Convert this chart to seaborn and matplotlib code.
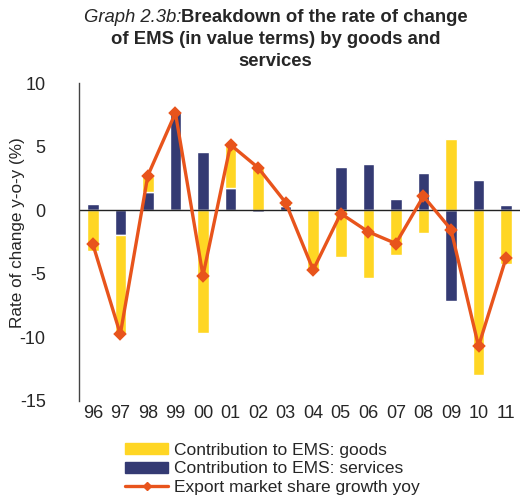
import numpy as np
import pandas as pd
import seaborn as sns
import matplotlib.pyplot as plt
from matplotlib.patches import Patch
from matplotlib.lines import Line2D

# values (percentage points)
years = ['96', '97', '98', '99', '00', '01', '02', '03',
         '04', '05', '06', '07', '08', '09', '10', '11']
goods = [-3.2, -7.85, 1.31, -0.05, -9.7, 3.41, 3.46, 0.25,
         -4.68, -3.7, -5.3, -3.54, -1.81, 5.62, -13.0, -4.22]
services = [0.52, -1.94, 1.42, 7.74, 4.57, 1.76, -0.16, 0.37,
            0.05, 3.44, 3.62, 0.89, 2.91, -7.16, 2.34, 0.45]
ems_growth = [-2.65, -9.75, 2.73, 7.65, -5.15, 5.15, 3.35, 0.6,
              -4.7, -0.26, -1.7, -2.62, 1.1, -1.52, -10.7, -3.75]

c_goods = '#FFD624'
c_serv = '#343A73'
c_line = '#E8541C'

sns.set_style('white')
plt.rcParams['font.family'] = ['Liberation Sans', 'DejaVu Sans']
plt.rcParams['axes.unicode_minus'] = False

df = pd.DataFrame({'year': years, 'goods': goods, 'services': services,
                   'ems': ems_growth})
# services sit next to zero, goods stack on them when the signs agree
same_sign = np.sign(df['goods']) == np.sign(df['services'])
df['goods_base'] = np.where(same_sign, df['services'], 0.0)

fig = plt.figure(figsize=(5.23, 5.01), dpi=100)
ax = fig.add_axes([0.151, 0.2, 0.843, 0.634])

sns.barplot(data=df, x='year', y='services', order=years, color=c_serv,
            width=0.42, saturation=1, ax=ax)
sns.barplot(data=df, x='year', y='goods', order=years, color=c_goods,
            width=0.42, saturation=1, bottom=df['goods_base'].values, ax=ax)
sns.pointplot(data=df, x='year', y='ems', order=years, color=c_line,
              markers='D', markersize=5, linewidth=2.4, ax=ax)

ax.axhline(0, color='#222222', lw=1.0, zorder=1)
ax.set_xlim(-0.5, len(years) - 0.5)
ax.set_ylim(-15, 10)
ax.set_yticks([-15, -10, -5, 0, 5, 10])
ax.set_xlabel('')
ax.set_ylabel('')
ax.tick_params(axis='y', labelsize=13, length=0, pad=24)
ax.tick_params(axis='x', labelsize=13, length=0, pad=3)
for s in ['top', 'right', 'bottom']:
    ax.spines[s].set_visible(False)
ax.spines['left'].set_color('#444444')
ax.spines['left'].set_linewidth(1.0)

fig.text(0.033, 0.535, 'Rate of change y-o-y (%)', rotation=90,
         ha='center', va='center', fontsize=12.3)

# title, first line mixes italic and bold
split = 0.347
fig.text(split, 0.966, 'Graph 2.3b:', ha='right', va='center',
         style='italic', fontsize=13.3)
fig.text(split, 0.966, 'Breakdown of the rate of change', ha='left',
         va='center', fontweight='bold', fontsize=13.3)
fig.text(0.527, 0.922, 'of EMS (in value terms) by goods and', ha='center',
         va='center', fontweight='bold', fontsize=13.3)
fig.text(0.527, 0.878, 'services', ha='center', va='center',
         fontweight='bold', fontsize=13.3)

handles = [Patch(color=c_goods), Patch(color=c_serv),
           Line2D([0], [0], color=c_line, lw=2.4, marker='D', markersize=4)]
labels = ['Contribution to EMS: goods', 'Contribution to EMS: services',
          'Export market share growth yoy']
fig.legend(handles, labels, loc='upper left',
           bbox_to_anchor=(0.239, 0.116), frameon=False, fontsize=12.5,
           handlelength=2.5, handleheight=0.6, handletextpad=0.3,
           labelspacing=0.2, borderpad=0, borderaxespad=0)

fig.savefig('out.png', dpi=100)
